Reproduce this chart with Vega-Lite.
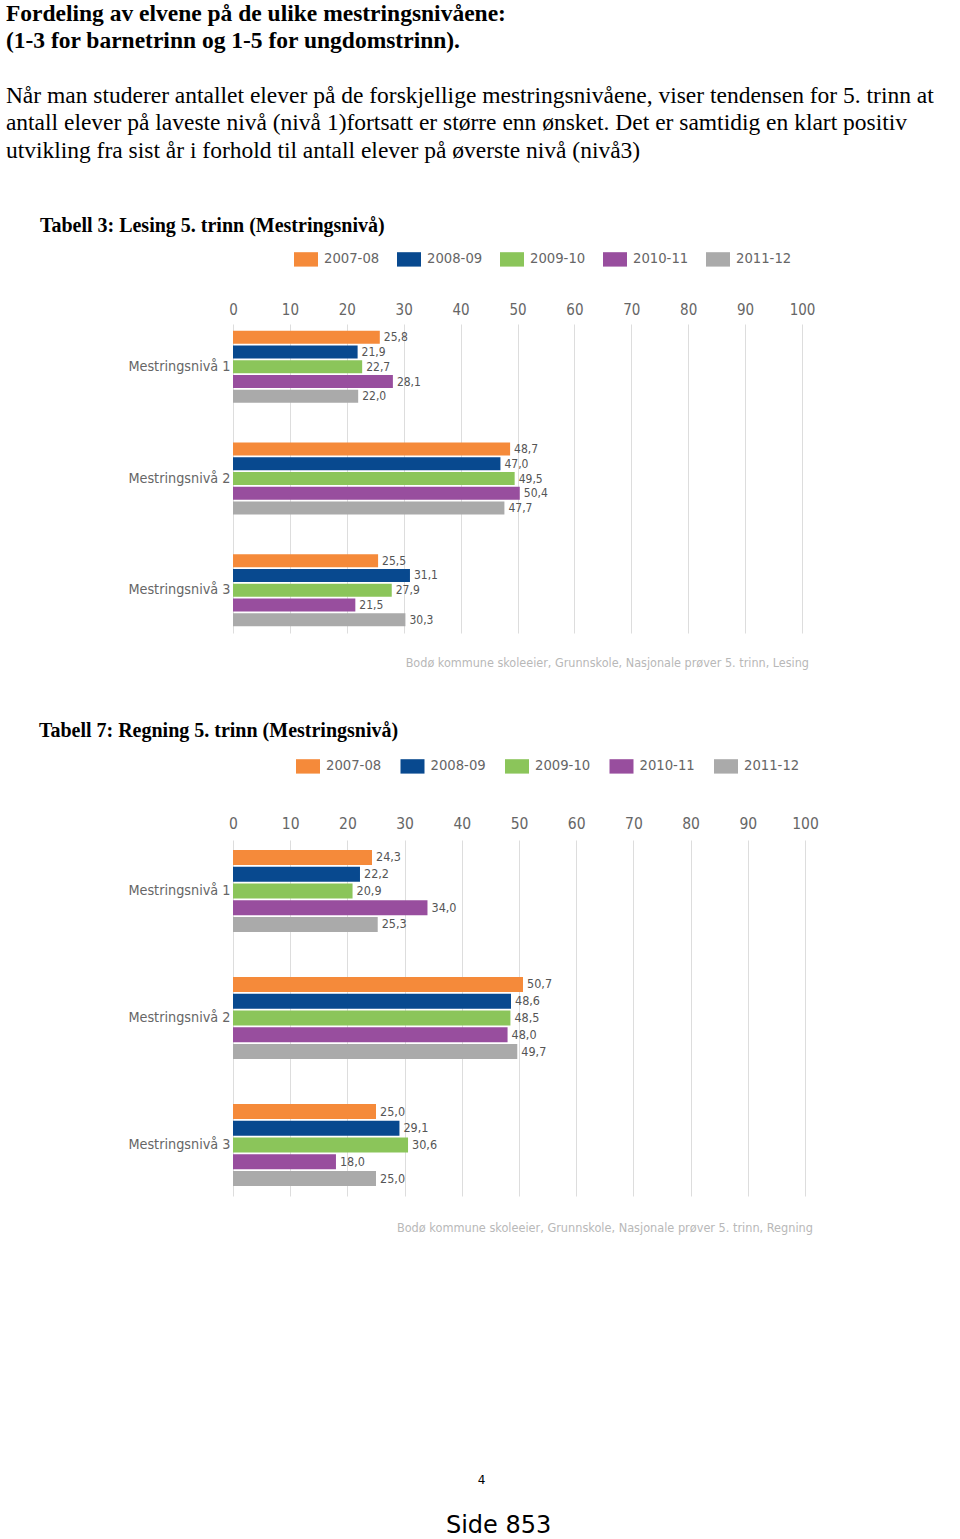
{
  "$schema": "https://vega.github.io/schema/vega-lite/v6.json",
  "padding": {"left": 5, "top": 2, "right": 0, "bottom": 0},
  "background": "white",
  "config": {
    "view": {"stroke": null},
    "font": "DejaVu Sans Condensed, Liberation Sans Narrow, Roboto, sans-serif",
    "locale": {"number": {"decimal": ",", "thousands": " ", "grouping": [3], "currency": ["", " kr"]}},
    "concat": {"spacing": 51}
  },
  "resolve": {"legend": {"color": "independent"}, "scale": {"color": "independent", "yOffset": "independent", "y": "independent", "x": "independent"}},
  "title": {
    "text": ["Fordeling av elvene på de ulike mestringsnivåene:", "(1-3 for barnetrinn og 1-5 for ungdomstrinn)."],
    "subtitle": ["Når man studerer antallet elever på de forskjellige mestringsnivåene, viser tendensen for 5. trinn at", "antall elever på laveste nivå (nivå 1)fortsatt er større enn ønsket. Det er samtidig en klart positiv", "utvikling fra sist år i forhold til antall elever på øverste nivå (nivå3)"],
    "anchor": "start",
    "frame": "bounds",
    "dx": -33,
    "font": "Liberation Serif",
    "fontSize": 23.5,
    "fontWeight": "bold",
    "color": "black",
    "lineHeight": 27,
    "subtitleFont": "Liberation Serif",
    "subtitleFontSize": 23.5,
    "subtitleFontWeight": "normal",
    "subtitleColor": "black",
    "subtitleLineHeight": 27.5,
    "subtitlePadding": 31,
    "offset": 54
  },
  "datasets": {
    "lesing": [
      {"niva": "Mestringsnivå 1", "aar": "2007-08", "verdi": 25.8},
      {"niva": "Mestringsnivå 1", "aar": "2008-09", "verdi": 21.9},
      {"niva": "Mestringsnivå 1", "aar": "2009-10", "verdi": 22.7},
      {"niva": "Mestringsnivå 1", "aar": "2010-11", "verdi": 28.1},
      {"niva": "Mestringsnivå 1", "aar": "2011-12", "verdi": 22.0},
      {"niva": "Mestringsnivå 2", "aar": "2007-08", "verdi": 48.7},
      {"niva": "Mestringsnivå 2", "aar": "2008-09", "verdi": 47.0},
      {"niva": "Mestringsnivå 2", "aar": "2009-10", "verdi": 49.5},
      {"niva": "Mestringsnivå 2", "aar": "2010-11", "verdi": 50.4},
      {"niva": "Mestringsnivå 2", "aar": "2011-12", "verdi": 47.7},
      {"niva": "Mestringsnivå 3", "aar": "2007-08", "verdi": 25.5},
      {"niva": "Mestringsnivå 3", "aar": "2008-09", "verdi": 31.1},
      {"niva": "Mestringsnivå 3", "aar": "2009-10", "verdi": 27.9},
      {"niva": "Mestringsnivå 3", "aar": "2010-11", "verdi": 21.5},
      {"niva": "Mestringsnivå 3", "aar": "2011-12", "verdi": 30.3}
    ],
    "regning": [
      {"niva": "Mestringsnivå 1", "aar": "2007-08", "verdi": 24.3},
      {"niva": "Mestringsnivå 1", "aar": "2008-09", "verdi": 22.2},
      {"niva": "Mestringsnivå 1", "aar": "2009-10", "verdi": 20.9},
      {"niva": "Mestringsnivå 1", "aar": "2010-11", "verdi": 34.0},
      {"niva": "Mestringsnivå 1", "aar": "2011-12", "verdi": 25.3},
      {"niva": "Mestringsnivå 2", "aar": "2007-08", "verdi": 50.7},
      {"niva": "Mestringsnivå 2", "aar": "2008-09", "verdi": 48.6},
      {"niva": "Mestringsnivå 2", "aar": "2009-10", "verdi": 48.5},
      {"niva": "Mestringsnivå 2", "aar": "2010-11", "verdi": 48.0},
      {"niva": "Mestringsnivå 2", "aar": "2011-12", "verdi": 49.7},
      {"niva": "Mestringsnivå 3", "aar": "2007-08", "verdi": 25.0},
      {"niva": "Mestringsnivå 3", "aar": "2008-09", "verdi": 29.1},
      {"niva": "Mestringsnivå 3", "aar": "2009-10", "verdi": 30.6},
      {"niva": "Mestringsnivå 3", "aar": "2010-11", "verdi": 18.0},
      {"niva": "Mestringsnivå 3", "aar": "2011-12", "verdi": 25.0}
    ]
  },
  "vconcat": [
    {
      "title": {"text": "Tabell 3: Lesing 5. trinn (Mestringsnivå)", "anchor": "start", "font": "Liberation Serif", "fontSize": 20, "fontWeight": "bold", "color": "black", "dx": -88, "offset": 11},
      "resolve": {"legend": {"color": "independent"}, "scale": {"color": "independent", "yOffset": "independent"}},
      "vconcat": [
        {
          "data": {"name": "lesing"},
          "width": 569,
          "height": 309,
          "title": {"text": "Bodø kommune skoleeier, Grunnskole, Nasjonale prøver 5. trinn, Lesing", "orient": "bottom", "anchor": "end", "frame": "group", "fontSize": 12.5, "fontWeight": "normal", "color": "#b8b8b8", "offset": 24, "dx": 7},
          "encoding": {
            "y": {"field": "niva", "type": "nominal", "title": null, "scale": {"paddingInner": 0.354, "paddingOuter": 0.06}, "axis": {"domain": false, "ticks": false, "labelFontSize": 14.3, "labelColor": "#666666", "labelPadding": 3}},
            "yOffset": {"field": "aar", "type": "nominal", "sort": ["2007-08", "2008-09", "2009-10", "2010-11", "2011-12"], "scale": {"paddingInner": 0.12}},
            "x": {"field": "verdi", "type": "quantitative", "title": null, "scale": {"domain": [0, 100]}, "axis": {"orient": "top", "values": [0, 10, 20, 30, 40, 50, 60, 70, 80, 90, 100], "domain": false, "ticks": false, "grid": true, "gridColor": "#dddddd", "labelFlush": false, "labelFontSize": 15, "labelColor": "#666666", "labelPadding": 7}}
          },
          "layer": [
            {
              "mark": {"type": "bar"},
              "encoding": {
                "color": {"field": "aar", "type": "nominal", "scale": {"domain": ["2007-08", "2008-09", "2009-10", "2010-11", "2011-12"], "range": ["#F58A3A", "#08498F", "#8BC55A", "#984E9E", "#AAAAAA"]},
                  "legend": {"orient": "none", "legendX": 61, "legendY": -77, "direction": "horizontal", "title": null, "symbolType": "M-1,-0.6H1V0.6H-1Z", "symbolSize": 576, "symbolStrokeWidth": 0, "symbolOpacity": 1, "labelFontSize": 14.7, "labelColor": "#666666", "labelOffset": 6, "columnPadding": 17}}
              }
            },
            {
              "mark": {"type": "text", "align": "left", "baseline": "middle", "dx": 4, "fontSize": 12, "color": "#555555"},
              "encoding": {"text": {"field": "verdi", "type": "quantitative", "format": ".1f"}}
            }
          ]
        }
      ]
    },
    {
      "title": {"text": "Side 853", "orient": "bottom", "anchor": "middle", "font": "DejaVu Sans", "fontSize": 24, "fontWeight": "normal", "color": "black", "offset": 28, "dx": 70},
      "resolve": {"legend": {"color": "independent"}, "scale": {"color": "independent", "yOffset": "independent"}},
      "vconcat": [
        {
          "title": {"text": "4", "orient": "bottom", "anchor": "middle", "font": "DejaVu Sans", "fontSize": 12, "fontWeight": "normal", "color": "black", "offset": 240, "dx": 53},
          "resolve": {"legend": {"color": "independent"}, "scale": {"color": "independent", "yOffset": "independent"}},
          "vconcat": [
            {
              "title": {"text": "Tabell 7: Regning 5. trinn (Mestringsnivå)", "anchor": "start", "font": "Liberation Serif", "fontSize": 20, "fontWeight": "bold", "color": "black", "dx": -89, "offset": 13},
              "resolve": {"legend": {"color": "independent"}, "scale": {"color": "independent", "yOffset": "independent"}},
              "vconcat": [
                {
                  "data": {"name": "regning"},
                  "width": 572,
                  "height": 356,
                  "title": {"text": "Bodø kommune skoleeier, Grunnskole, Nasjonale prøver 5. trinn, Regning", "orient": "bottom", "anchor": "end", "frame": "group", "fontSize": 12.6, "fontWeight": "normal", "color": "#b8b8b8", "offset": 26, "dx": 8},
                  "encoding": {
                    "y": {"field": "niva", "type": "nominal", "title": null, "scale": {"paddingInner": 0.354, "paddingOuter": 0.078}, "axis": {"domain": false, "ticks": false, "labelFontSize": 14.3, "labelColor": "#666666", "labelPadding": 3}},
                    "yOffset": {"field": "aar", "type": "nominal", "sort": ["2007-08", "2008-09", "2009-10", "2010-11", "2011-12"], "scale": {"paddingInner": 0.1}},
                    "x": {"field": "verdi", "type": "quantitative", "title": null, "scale": {"domain": [0, 100]}, "axis": {"orient": "top", "values": [0, 10, 20, 30, 40, 50, 60, 70, 80, 90, 100], "domain": false, "ticks": false, "grid": true, "gridColor": "#dddddd", "labelFlush": false, "labelFontSize": 15.5, "labelColor": "#666666", "labelPadding": 9}}
                  },
                  "layer": [
                    {
                      "mark": {"type": "bar"},
                      "encoding": {
                        "color": {"field": "aar", "type": "nominal", "scale": {"domain": ["2007-08", "2008-09", "2009-10", "2010-11", "2011-12"], "range": ["#F58A3A", "#08498F", "#8BC55A", "#984E9E", "#AAAAAA"]},
                          "legend": {"orient": "none", "legendX": 63, "legendY": -86, "direction": "horizontal", "title": null, "symbolType": "M-1,-0.6H1V0.6H-1Z", "symbolSize": 576, "symbolStrokeWidth": 0, "symbolOpacity": 1, "labelFontSize": 14.7, "labelColor": "#666666", "labelOffset": 6, "columnPadding": 18.5}}
                      }
                    },
                    {
                      "mark": {"type": "text", "align": "left", "baseline": "middle", "dx": 4, "fontSize": 12.5, "color": "#555555"},
                      "encoding": {"text": {"field": "verdi", "type": "quantitative", "format": ".1f"}}
                    }
                  ]
                }
              ]
            }
          ]
        }
      ]
    }
  ]
}
